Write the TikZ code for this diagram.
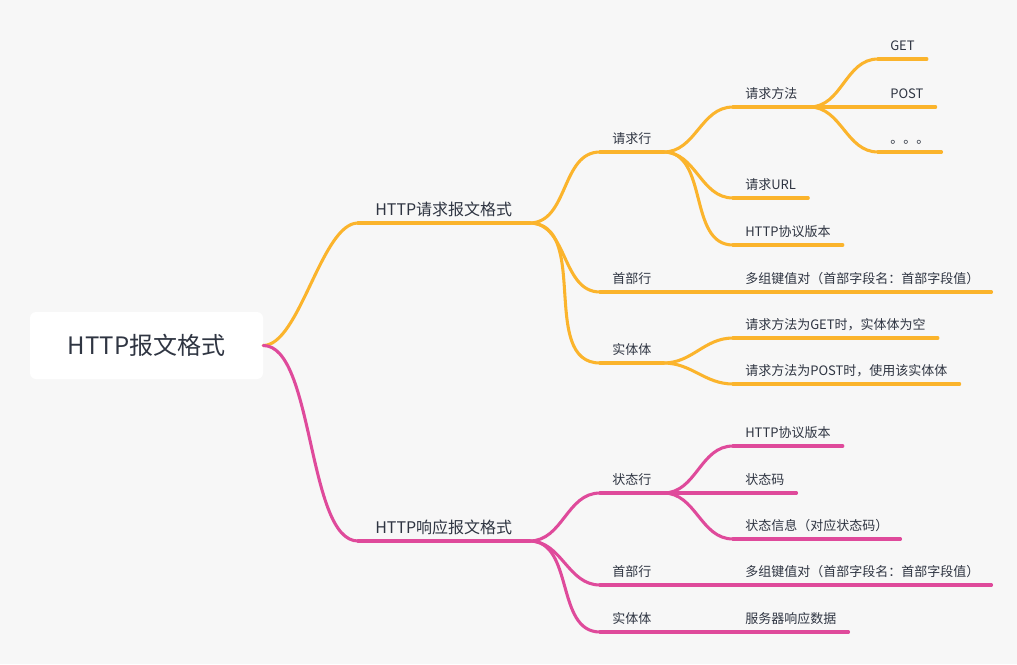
\documentclass[tikz,border=0pt]{standalone}
\usepackage{fontspec}
\setmainfont{Noto Sans CJK SC}
\usepackage{tikz}
\definecolor{reqorange}{HTML}{FBB42C}
\definecolor{respink}{HTML}{DF4A9B}
\definecolor{bggray}{HTML}{F7F7F7}
\definecolor{txtgray}{HTML}{2F3542}

\begin{document}
\begin{tikzpicture}[x=0.75pt, y=-0.75pt,
  branchwire/.style={draw=#1, line width=2.3pt, line cap=round},
  branchlink/.style={branchwire=#1, out=0, in=180},
  uline/.style={append after command={(\tikzlastnode.south west) edge[branchwire=#1] (\tikzlastnode.south east)}},
  leafnode/.style={anchor=south west, text=txtgray, font=\fontsize{9.75}{11}\selectfont,
    inner xsep=9pt, inner ysep=4pt, text height=8.5pt, text depth=2.4pt, uline=#1},
  topicnode/.style={anchor=south west, text=txtgray, font=\fontsize{12}{14}\selectfont,
    inner xsep=12.75pt, inner ysep=2.4pt, text height=10.5pt, text depth=3pt, uline=#1},
  rootbox/.style={fill=white, rounded corners=4.5pt, text=txtgray, font=\fontsize{18}{22}\selectfont,
    minimum width=174.75pt, minimum height=50.25pt}]

  % Canvas
  \useasboundingbox (0,0) rectangle (1017,664);
  \fill[bggray] (0,0) rectangle (1017,664);

  % Root
  \node[rootbox] (root) at (146.5,345.5) {HTTP报文格式};

  % Request branch
  \node[topicnode=reqorange] (req) at (358,223) {HTTP请求报文格式};
  \node[leafnode=reqorange] (reqline) at (600,152) {请求行};
  \node[leafnode=reqorange] (reqhead) at (600,292) {首部行};
  \node[leafnode=reqorange] (reqbody) at (600,363) {实体体};

  \node[leafnode=reqorange] (reqmethod) at (733,107) {请求方法};
  \node[leafnode=reqorange] (requrl) at (733,198) {请求URL};
  \node[leafnode=reqorange] (reqver) at (733,245) {HTTP协议版本};
  \node[leafnode=reqorange] (reqpairs) at (733,292) {多组键值对（首部字段名：首部字段值）};
  \node[leafnode=reqorange] (reqget) at (733,338) {请求方法为GET时，实体体为空};
  \node[leafnode=reqorange] (reqpost) at (733,384) {请求方法为POST时，使用该实体体};

  \node[leafnode=reqorange] (get) at (878,59) {GET};
  \node[leafnode=reqorange] (post) at (878,107) {POST};
  \node[leafnode=reqorange] (more) at (878,152) {。。。};

  % Response branch
  \node[topicnode=respink] (resp) at (358,541) {HTTP响应报文格式};
  \node[leafnode=respink] (stline) at (600,493) {状态行};
  \node[leafnode=respink] (resphead) at (600,585) {首部行};
  \node[leafnode=respink] (respbody) at (600,632) {实体体};

  \node[leafnode=respink] (stver) at (733,446) {HTTP协议版本};
  \node[leafnode=respink] (stcode) at (733,493) {状态码};
  \node[leafnode=respink] (stinfo) at (733,539) {状态信息（对应状态码）};
  \node[leafnode=respink] (resppairs) at (733,585) {多组键值对（首部字段名：首部字段值）};
  \node[leafnode=respink] (respdata) at (733,632) {服务器响应数据};

  % Request connectors
  \draw[branchlink=reqorange, looseness=0.6] (root.east) to (req.south west);
  \draw[branchlink=reqorange] (req.south east) to (reqline.south west);
  \draw[branchlink=reqorange] (req.south east) to (reqhead.south west);
  \draw[branchlink=reqorange] (req.south east) to (reqbody.south west);
  \draw[branchlink=reqorange] (reqline.south east) to (reqmethod.south west);
  \draw[branchlink=reqorange] (reqline.south east) to (requrl.south west);
  \draw[branchlink=reqorange] (reqline.south east) to (reqver.south west);
  \draw[branchlink=reqorange] (reqhead.south east) to (reqpairs.south west);
  \draw[branchlink=reqorange] (reqbody.south east) to (reqget.south west);
  \draw[branchlink=reqorange] (reqbody.south east) to (reqpost.south west);
  \draw[branchlink=reqorange] (reqmethod.south east) to (get.south west);
  \draw[branchlink=reqorange] (reqmethod.south east) to (post.south west);
  \draw[branchlink=reqorange] (reqmethod.south east) to (more.south west);

  % Response connectors
  \draw[branchlink=respink, looseness=0.6] (root.east) to (resp.south west);
  \draw[branchlink=respink] (resp.south east) to (stline.south west);
  \draw[branchlink=respink] (resp.south east) to (resphead.south west);
  \draw[branchlink=respink] (resp.south east) to (respbody.south west);
  \draw[branchlink=respink] (stline.south east) to (stver.south west);
  \draw[branchlink=respink] (stline.south east) to (stcode.south west);
  \draw[branchlink=respink] (stline.south east) to (stinfo.south west);
  \draw[branchlink=respink] (resphead.south east) to (resppairs.south west);
  \draw[branchlink=respink] (respbody.south east) to (respdata.south west);
\end{tikzpicture}
\end{document}
